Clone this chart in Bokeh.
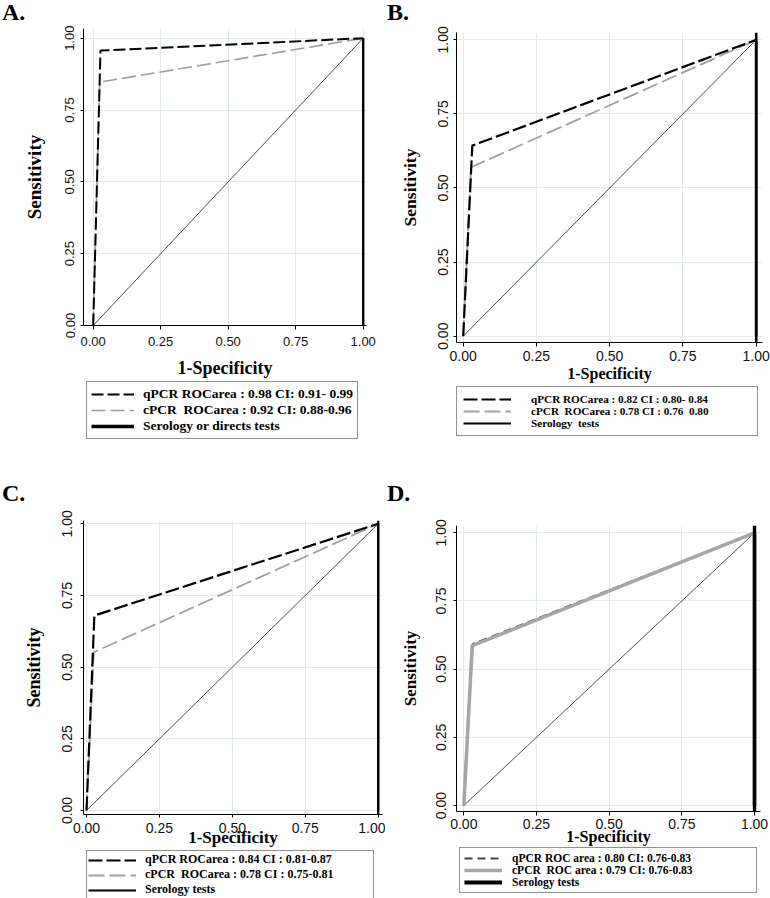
from bokeh.plotting import figure
from bokeh.layouts import column, row
from bokeh.models import (Range1d, FixedTicker, NumeralTickFormatter, Legend,
                          LegendItem, Span, Div, Spacer)
from bokeh.embed import file_html
from bokeh.resources import INLINE

# ---------------- data ----------------
tick_values = [0.0, 0.25, 0.50, 0.75, 1.0]
panel_letters = ["A.", "B.", "C.", "D."]

qpcr_x_A = [0.0, 0.027, 1.0]
qpcr_y_A = [0.0, 0.957, 1.0]
cpcr_x_A = [0.0, 0.024, 1.0]
cpcr_y_A = [0.0, 0.847, 1.0]

qpcr_x_B = [0.0, 0.031, 1.0]
qpcr_y_B = [0.0, 0.643, 1.0]
cpcr_x_B = [0.0, 0.027, 1.0]
cpcr_y_B = [0.0, 0.570, 1.0]

qpcr_x_C = [0.0, 0.027, 1.0]
qpcr_y_C = [0.0, 0.680, 1.0]
cpcr_x_C = [0.0, 0.025, 1.0]
cpcr_y_C = [0.0, 0.552, 1.0]

qpcr_x_D = [0.0, 0.030, 1.0]
qpcr_y_D = [0.0, 0.592, 1.0]
cpcr_x_D = [0.0, 0.029, 1.0]
cpcr_y_D = [0.0, 0.586, 1.0]

reference_x = [0.0, 1.0]
reference_y = [0.0, 1.0]
serology_x = [1.0, 1.0]
serology_y = [0.0, 1.0]

qpcr_labels = ["qPCR ROCarea : 0.98 CI: 0.91- 0.99",
               "qPCR ROCarea : 0.82 CI : 0.80- 0.84",
               "qPCR ROCarea : 0.84 CI : 0.81-0.87",
               "qPCR ROC area : 0.80 CI: 0.76-0.83"]
cpcr_labels = ["cPCR  ROCarea : 0.92 CI: 0.88-0.96",
               "cPCR  ROCarea : 0.78 CI : 0.76  0.80",
               "cPCR  ROCarea : 0.78 CI : 0.75-0.81",
               "cPCR  ROC area : 0.79 CI: 0.76-0.83"]
serology_labels = ["Serology or directs tests",
                   "Serology  tests",
                   "Serology tests",
                   "Serology tests"]

x_title = "1-Specificity"
y_title = "Sensitivity"

# ---------------- styles / geometry ----------------
SERIF = "Liberation Serif"
SANS = "Liberation Sans"
GRID = "#e2eaea"
COL_W = 385
LETTER_H = 24

panels = [
    dict(data=(qpcr_x_A, qpcr_y_A, cpcr_x_A, cpcr_y_A),
         head_gap=0, plot_h=357, leg_h=59,
         xr=(-0.0359, 1.0122), yr=(0.0, 1.0338),
         mb=(4, 19, 56, 83), full_span=False,
         tick_fs="13px", xlab_fs="18px", ylab_fs="19px",
         x_out=4, x_std=7, x_lab_std=9, y_out=3, y_std=6, y_lab_std=18,
         leg=dict(fs="13.5px", pad=4, gw=43, gh=14, std=9, lw=205, lh=14, sp=0,
                  left=86, s_w=3.6),
         q=dict(color="black", width=2.0, dash="12 4"),
         c=dict(color="#9c9c9c", width=1.6, dash="14 5"),
         s_width=2.4),
    dict(data=(qpcr_x_B, qpcr_y_B, cpcr_x_B, cpcr_y_B),
         head_gap=0, plot_h=362, leg_h=54,
         xr=(-0.0229, 1.0215), yr=(-0.0213, 1.0246),
         mb=(8, 8, 44, 71), full_span=True,
         tick_fs="14px", xlab_fs="16px", ylab_fs="17.5px",
         x_out=4, x_std=4, x_lab_std=1, y_out=3, y_std=5, y_lab_std=16,
         leg=dict(fs="11.2px", pad=6, gw=48, gh=12, std=20, lw=220, lh=12, sp=0,
                  left=71, s_w=1.8),
         q=dict(color="black", width=2.2, dash="14 4"),
         c=dict(color="#a0a0a0", width=1.8, dash="16 5"),
         s_width=2.6),
    dict(data=(qpcr_x_C, qpcr_y_C, cpcr_x_C, cpcr_y_C),
         head_gap=41, plot_h=345, leg_h=48,
         xr=(-0.0103, 1.0147), yr=(-0.014, 1.0115),
         mb=(15, 3, 36, 83), full_span=True,
         tick_fs="14px", xlab_fs="17px", ylab_fs="18px",
         x_out=3, x_std=5, x_lab_std=-8, y_out=3, y_std=8, y_lab_std=16,
         leg=dict(fs="12px", pad=1, gw=48, gh=12, std=9, lw=227, lh=12, sp=0,
                  left=86, s_w=2.0),
         q=dict(color="black", width=2.2, dash="14 4"),
         c=dict(color="#a0a0a0", width=1.8, dash="16 5"),
         s_width=2.2),
    dict(data=(qpcr_x_D, qpcr_y_D, cpcr_x_D, cpcr_y_D),
         head_gap=41, plot_h=342, leg_h=51,
         xr=(-0.0251, 1.0206), yr=(-0.022, 1.0268),
         mb=(20, 10, 36, 71), full_span=True,
         tick_fs="14px", xlab_fs="16px", ylab_fs="17px",
         x_out=4, x_std=3, x_lab_std=-4, y_out=3, y_std=7, y_lab_std=14,
         leg=dict(fs="11.5px", pad=4, gw=38, gh=12, std=10, lw=240, lh=12, sp=0,
                  left=74, s_w=4.0),
         q=dict(color="#444444", width=2.0, dash="8 5"),
         c=dict(color="#a6a6a6", width=3.6, dash="solid"),
         s_width=3.4),
]


def blank_fig(w, h, xr, yr, left=0):
    f = figure(width=w, height=h, output_backend="svg",
               toolbar_location=None, tools="", frame_align=False,
               x_range=Range1d(*xr), y_range=Range1d(*yr),
               x_axis_location=None, y_axis_location=None,
               min_border_top=0, min_border_bottom=0,
               min_border_right=0, min_border_left=left)
    f.outline_line_color = None
    f.grid.visible = False
    f.border_fill_color = "white"
    f.background_fill_color = "white"
    return f


def make_panel(i, cfg):
    qx, qy, cx, cy = cfg["data"]
    q, c, lg = cfg["q"], cfg["c"], cfg["leg"]

    # ---- panel letter ----
    head = []
    if cfg["head_gap"]:
        head.append(Spacer(width=COL_W, height=cfg["head_gap"], margin=0))
    head.append(Div(text=panel_letters[i], width=COL_W, height=LETTER_H, margin=0,
                    styles={"font-family": SERIF, "font-weight": "bold",
                            "font-size": "24px", "line-height": "24px",
                            "color": "black", "padding-left": "2px"}))

    # ---- ROC plot ----
    top, right, bottom, left = cfg["mb"]
    p = figure(width=COL_W, height=cfg["plot_h"], output_backend="svg",
               toolbar_location=None, tools="", frame_align=False,
               x_range=Range1d(*cfg["xr"]), y_range=Range1d(*cfg["yr"]),
               min_border_top=top, min_border_right=right,
               min_border_bottom=bottom, min_border_left=left)
    p.outline_line_color = None
    p.background_fill_color = "white"
    p.border_fill_color = "white"

    for g in (p.xgrid, p.ygrid):
        g.ticker = FixedTicker(ticks=tick_values)
        g.grid_line_color = GRID
        g.grid_line_width = 1

    for ax in (p.xaxis[0], p.yaxis[0]):
        ax.ticker = FixedTicker(ticks=tick_values)
        ax.formatter = NumeralTickFormatter(format="0.00")
        ax.minor_tick_line_color = None
        ax.major_tick_in = 0
        ax.axis_line_color = "black"
        ax.major_tick_line_color = "black"
        ax.major_label_text_font = SANS
        ax.major_label_text_font_size = cfg["tick_fs"]
        ax.major_label_text_color = "#111111"
        ax.axis_label_text_font = SERIF
        ax.axis_label_text_font_style = "bold"
        ax.axis_label_text_color = "black"
    xa, ya = p.xaxis[0], p.yaxis[0]
    xa.axis_label = x_title
    xa.axis_label_text_font_size = cfg["xlab_fs"]
    xa.major_tick_out = cfg["x_out"]
    xa.major_label_standoff = cfg["x_std"]
    xa.axis_label_standoff = cfg["x_lab_std"]
    ya.axis_label = y_title
    ya.axis_label_text_font_size = cfg["ylab_fs"]
    ya.major_tick_out = cfg["y_out"]
    ya.major_label_standoff = cfg["y_std"]
    ya.axis_label_standoff = cfg["y_lab_std"]
    ya.major_label_orientation = "vertical"

    p.line(reference_x, reference_y, line_color="black", line_width=0.7)
    p.line(serology_x, serology_y, line_color="black", line_width=cfg["s_width"])
    if cfg["full_span"]:
        p.add_layout(Span(location=serology_x[0], dimension="height",
                          line_color="black", line_width=cfg["s_width"]))

    if i == 3:
        p.line(qx, qy, line_color=q["color"], line_width=q["width"], line_dash=q["dash"])
        p.line(cx, cy, line_color=c["color"], line_width=c["width"], line_dash=c["dash"])
    else:
        p.line(cx, cy, line_color=c["color"], line_width=c["width"], line_dash=c["dash"])
        p.line(qx, qy, line_color=q["color"], line_width=q["width"], line_dash=q["dash"])

    # ---- legend strip (its sample lines fall outside the visible range) ----
    lf = blank_fig(COL_W, cfg["leg_h"], (-3, -2), (-3, -2), left=lg["left"])
    rq = lf.line(qx, qy, line_color=q["color"], line_width=q["width"], line_dash=q["dash"])
    rc = lf.line(cx, cy, line_color=c["color"], line_width=c["width"], line_dash=c["dash"])
    rs = lf.line(serology_x, serology_y, line_color="black", line_width=lg["s_w"])
    legend = Legend(items=[LegendItem(label=qpcr_labels[i], renderers=[rq]),
                           LegendItem(label=cpcr_labels[i], renderers=[rc]),
                           LegendItem(label=serology_labels[i], renderers=[rs])],
                    location="top_left", orientation="vertical",
                    label_text_font=SERIF, label_text_font_style="bold",
                    label_text_font_size=lg["fs"], label_text_color="black",
                    padding=lg["pad"], glyph_width=lg["gw"], glyph_height=lg["gh"],
                    label_standoff=lg["std"], label_width=lg["lw"],
                    label_height=lg["lh"], spacing=lg["sp"], margin=0,
                    border_line_color="#222222", border_line_width=1,
                    background_fill_color="white", background_fill_alpha=1.0)
    lf.add_layout(legend)
    return column(*head, p, lf, spacing=0)


cols = [make_panel(i, cfg) for i, cfg in enumerate(panels)]
layout = column(row(cols[0], cols[1], spacing=0),
                row(cols[2], cols[3], spacing=0), spacing=0)

open("out.html", "w").write(file_html(layout, INLINE))
